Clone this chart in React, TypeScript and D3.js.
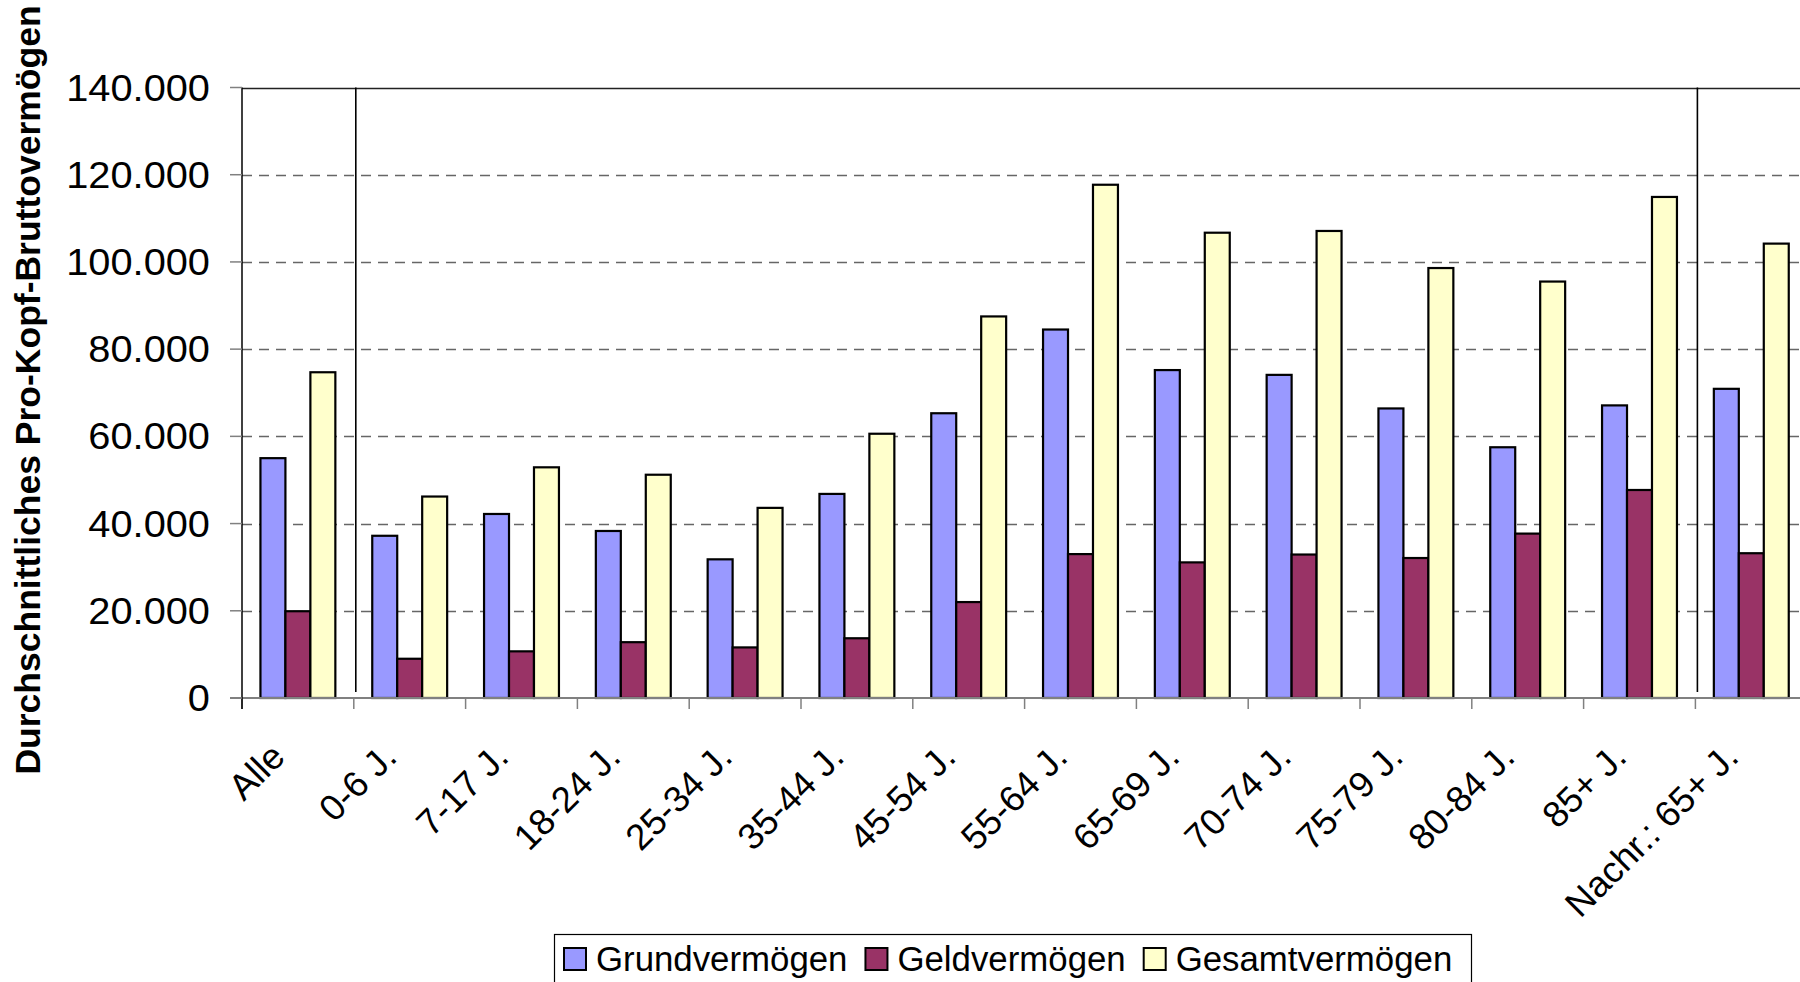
import React, { useEffect, useRef } from "react";
import * as d3 from "d3";

const categories = [
  "Alle",
  "0-6 J.",
  "7-17 J.",
  "18-24 J.",
  "25-34 J.",
  "35-44 J.",
  "45-54 J.",
  "55-64 J.",
  "65-69 J.",
  "70-74 J.",
  "75-79 J.",
  "80-84 J.",
  "85+ J.",
  "Nachr.: 65+ J.",
];
const grundvermoegen = [55000, 37200, 42200, 38300, 31800, 46800, 65300, 84500, 75200, 74100, 66400, 57500, 67100, 70900];
const geldvermoegen = [19900, 9000, 10700, 12800, 11600, 13700, 22000, 33000, 31100, 32900, 32100, 37700, 47700, 33200];
const gesamtvermoegen = [74700, 46200, 52900, 51200, 43600, 60600, 87500, 117700, 106700, 107100, 98600, 95500, 114900, 104200];
const seriesNames = ["Grundvermögen", "Geldvermögen", "Gesamtvermögen"];
const seriesColors = ["#9999FF", "#993366", "#FFFFCC"];
const yTicks = [0, 20000, 40000, 60000, 80000, 100000, 120000, 140000];
// separators after "Alle" and before "Nachr.: 65+ J."
const separatorAfter = [0, 12];

const W = 1800;
const H = 982;
const FONT = "'Liberation Sans', Arial, Helvetica, sans-serif";

const Chart = () => {
  const ref = useRef<SVGSVGElement>(null);

  useEffect(() => {
    const svg = d3.select(ref.current);
    svg.selectAll("*").remove();

    const left = 242;
    const top = 87.5;
    const bottom = 698;
    const step = 111.8;

    const x0 = d3
      .scaleBand()
      .domain(categories)
      .range([left, left + step * categories.length])
      .padding(0);
    const groupW = x0.bandwidth() * 0.67;
    const x1 = d3
      .scaleBand()
      .domain(seriesNames)
      .range([(x0.bandwidth() - groupW) / 2, (x0.bandwidth() + groupW) / 2])
      .padding(0);
    const y = d3.scaleLinear().domain([0, 140000]).range([bottom, top]);

    const fmt = (v: number) => d3.format(",")(v).replace(/,/g, ".");

    // gridlines
    const grid = svg.append("g");
    grid
      .selectAll("line")
      .data(yTicks.filter((t) => t > 0))
      .join("line")
      .attr("x1", left)
      .attr("x2", W)
      .attr("y1", (d) => Math.round(y(d)) + 0.5)
      .attr("y2", (d) => Math.round(y(d)) + 0.5)
      .attr("stroke", (d) => (d === 140000 ? "#222" : "#666"))
      .attr("stroke-width", 1.3)
      .attr("stroke-dasharray", (d) => (d === 140000 ? null : "10,7"));

    // separators
    svg
      .append("g")
      .selectAll("line")
      .data(separatorAfter)
      .join("line")
      .attr("x1", (i) => (x0(categories[i]) as number) + step + 2)
      .attr("x2", (i) => (x0(categories[i]) as number) + step + 2)
      .attr("y1", top)
      .attr("y2", bottom - 6)
      .attr("stroke", "#000")
      .attr("stroke-width", 1.6);

    // bars
    const table = categories.map((c, i) => ({
      cat: c,
      vals: [grundvermoegen[i], geldvermoegen[i], gesamtvermoegen[i]],
    }));
    svg
      .append("g")
      .selectAll("g")
      .data(table)
      .join("g")
      .attr("transform", (d) => `translate(${x0(d.cat)},0)`)
      .selectAll("rect")
      .data((d) => d.vals.map((v, k) => ({ v, k })))
      .join("rect")
      .attr("x", (d) => x1(seriesNames[d.k]) as number)
      .attr("width", x1.bandwidth())
      .attr("y", (d) => y(d.v))
      .attr("height", (d) => bottom - y(d.v))
      .attr("fill", (d) => seriesColors[d.k])
      .attr("stroke", "#000")
      .attr("stroke-width", 2.2);

    // x axis line + ticks
    svg
      .append("line")
      .attr("x1", left - 12)
      .attr("x2", W)
      .attr("y1", bottom)
      .attr("y2", bottom)
      .attr("stroke", "#808080")
      .attr("stroke-width", 2);
    svg
      .append("g")
      .selectAll("line")
      .data(categories)
      .join("line")
      .attr("x1", (d) => x0(d) as number)
      .attr("x2", (d) => x0(d) as number)
      .attr("y1", bottom)
      .attr("y2", bottom + 11)
      .attr("stroke", "#808080")
      .attr("stroke-width", 1.5);

    // y axis
    svg
      .append("line")
      .attr("x1", left)
      .attr("x2", left)
      .attr("y1", top)
      .attr("y2", bottom + 11)
      .attr("stroke", "#000")
      .attr("stroke-width", 1.5);
    const ya = svg.append("g");
    ya.selectAll("line")
      .data(yTicks)
      .join("line")
      .attr("x1", left - 12)
      .attr("x2", left)
      .attr("y1", (d) => y(d))
      .attr("y2", (d) => y(d))
      .attr("stroke", "#808080")
      .attr("stroke-width", 1.5);
    ya.selectAll("text")
      .data(yTicks)
      .join("text")
      .attr("transform", (d) => `translate(210,${y(d) + 13}) scale(1.09,1)`)
      .attr("text-anchor", "end")
      .attr("font-family", FONT)
      .attr("font-size", 36.5)
      .attr("fill", "#000")
      .text((d) => fmt(d));

    // x labels
    svg
      .append("g")
      .selectAll("text")
      .data(categories)
      .join("text")
      .attr("transform", (d) => `translate(${(x0(d) as number) + step / 2 - 11},759) rotate(-45)`)
      .attr("text-anchor", "end")
      .attr("font-family", FONT)
      .attr("font-size", 36.5)
      .attr("fill", "#000")
      .text((d) => d);

    // y title
    svg
      .append("text")
      .attr("transform", "translate(40,390) rotate(-90)")
      .attr("text-anchor", "middle")
      .attr("font-family", FONT)
      .attr("font-weight", "bold")
      .attr("font-size", 35.5)
      .attr("fill", "#000")
      .text("Durchschnittliches Pro-Kopf-Bruttovermögen");

    // legend
    const lg = svg.append("g");
    lg.append("rect")
      .attr("x", 554.5)
      .attr("y", 934.5)
      .attr("width", 917)
      .attr("height", 80)
      .attr("fill", "#fff")
      .attr("stroke", "#000")
      .attr("stroke-width", 1.2);
    let lx = 564;
    seriesNames.forEach((name, k) => {
      lg.append("rect")
        .attr("x", lx)
        .attr("y", 948)
        .attr("width", 22)
        .attr("height", 22)
        .attr("fill", seriesColors[k])
        .attr("stroke", "#000")
        .attr("stroke-width", 2);
      const t = lg
        .append("text")
        .attr("x", lx + 32)
        .attr("y", 971)
        .attr("font-family", FONT)
        .attr("font-size", 34.8)
        .attr("fill", "#000")
        .text(name);
      const tw = (t.node() as SVGTextElement).getComputedTextLength();
      lx += 32 + tw + 18;
    });
  }, []);

  return <svg ref={ref} width={W} height={H} style={{ display: "block" }} />;
};

export default function App() {
  return (
    <div style={{ position: "absolute", left: 0, top: 0, width: W, height: H, overflow: "hidden", background: "#fff" }}>
      <Chart />
    </div>
  );
}
